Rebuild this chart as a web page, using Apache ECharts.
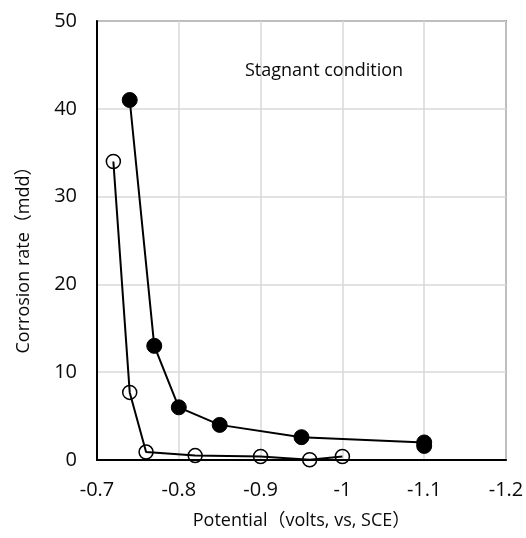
<!DOCTYPE html>
<html>
<head>
<meta charset="utf-8">
<script src="https://cdn.jsdelivr.net/npm/echarts@6/dist/echarts.min.js"></script>
<style>html,body{margin:0;padding:0;background:#fff}#c{width:526px;height:538px}</style>
</head>
<body>
<div id="c"></div>
<script>
// Data
const xTicks = [-0.7, -0.8, -0.9, -1.0, -1.1, -1.2];
const yTicks = [0, 10, 20, 30, 40, 50];
const filledX = [-0.74, -0.77, -0.80, -0.85, -0.95, -1.10, -1.10];
const filledY = [41, 13, 6, 4, 2.6, 2.0, 1.6];
const openX = [-0.72, -0.74, -0.76, -0.82, -0.90, -0.96, -1.00];
const openY = [34, 7.7, 0.9, 0.5, 0.4, 0.03, 0.4];
const xName = 'Potential（volts, vs, SCE）';
const yName = 'Corrosion rate（mdd）';
const note = 'Stagnant condition';

const FONT = '"Open Sans", "Noto Sans", "Noto Sans CJK SC", sans-serif';
const TXT = '#0a0a0a';
const chart = echarts.init(document.getElementById('c'), null, {renderer: 'canvas'});
const pair = (xs, ys) => xs.map((x, i) => [x, ys[i]]);
chart.setOption({
  animation: false,
  backgroundColor: '#fff',
  title: {
    text: note, left: 240, top: 57,
    textStyle: {fontFamily: FONT, fontSize: 18, fontWeight: 'normal', color: TXT}
  },
  grid: {
    left: 97, right: 20, top: 21, bottom: 78,
    show: true, borderColor: '#404040', borderWidth: 1.5,
    outerBoundsMode: 'none'
  },
  xAxis: {
    type: 'value', inverse: true,
    min: xTicks[xTicks.length - 1], max: xTicks[0], interval: 0.1,
    name: xName, nameLocation: 'middle', nameGap: 52,
    nameTextStyle: {fontFamily: FONT, fontSize: 18, color: TXT},
    axisLine: {show: true, onZero: false, lineStyle: {color: '#000', width: 2}},
    axisTick: {show: false},
    axisLabel: {
      fontFamily: FONT, fontSize: 20, color: TXT, margin: 20,
      showMinLabel: true, showMaxLabel: true,
      formatter: v => {
        const t = xTicks.find(k => Math.abs(k - v) < 1e-6);
        return String(t !== undefined ? t : Math.round(v * 10) / 10);
      }
    },
    splitLine: {show: true, lineStyle: {color: '#d9d9d9', width: 1.5}}
  },
  yAxis: {
    type: 'value', min: yTicks[0], max: yTicks[yTicks.length - 1], interval: 10,
    name: yName, nameLocation: 'middle', nameGap: 64,
    nameTextStyle: {fontFamily: FONT, fontSize: 18, color: TXT, padding: [0, 30, 0, 0]},
    axisLine: {show: true, onZero: false, lineStyle: {color: '#000', width: 2}},
    axisTick: {show: false},
    axisLabel: {fontFamily: FONT, fontSize: 20, color: TXT, margin: 20},
    splitLine: {show: true, lineStyle: {color: '#d9d9d9', width: 1.5}}
  },
  series: [
    {
      type: 'line', data: pair(filledX, filledY),
      symbol: 'circle', symbolSize: 15,
      lineStyle: {color: '#000', width: 2},
      itemStyle: {color: '#000', borderColor: '#000', borderWidth: 1}
    },
    {
      type: 'line', data: pair(openX, openY),
      symbol: 'circle', symbolSize: 14,
      lineStyle: {color: '#000', width: 2},
      itemStyle: {color: 'rgba(0,0,0,0)', borderColor: '#000', borderWidth: 1.5}
    }
  ]
});
</script>
</body>
</html>
